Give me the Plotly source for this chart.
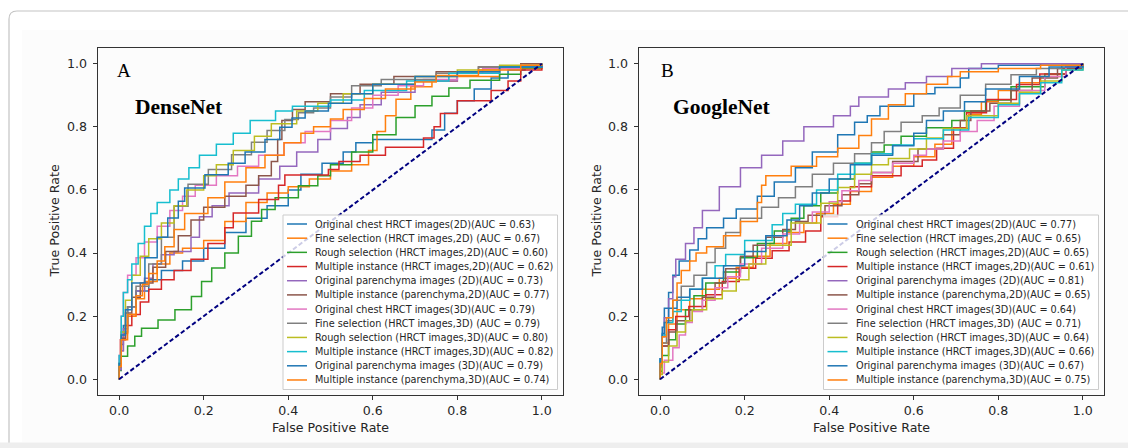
import plotly.graph_objects as go

W, H = 1128, 448

# ---------------- data ----------------
series_names = [
    "Original chest HRCT images(2D)", "Fine selection (HRCT images,2D) ", "Rough selection (HRCT images,2D)",
    "Multiple instance (HRCT images,2D)", "Original parenchyma images (2D)", "Multiple instance (parenchyma,2D)",
    "Original chest HRCT images(3D)", "Fine selection (HRCT images,3D) ", "Rough selection (HRCT images,3D)",
    "Multiple instance (HRCT images,3D)", "Original parenchyma images (3D)", "Multiple instance (parenchyma,3D)",
]
auc_A = [0.63, 0.67, 0.60, 0.62, 0.73, 0.77, 0.79, 0.79, 0.80, 0.82, 0.79, 0.74]
auc_B = [0.77, 0.65, 0.65, 0.61, 0.81, 0.65, 0.64, 0.71, 0.64, 0.66, 0.67, 0.75]
colors = ["#1f77b4", "#ff7f0e", "#2ca02c", "#d62728", "#9467bd", "#8c564b",
          "#e377c2", "#7f7f7f", "#bcbd22", "#17becf", "#1f77b4", "#ff7f0e"]
tick_vals = [0.0, 0.2, 0.4, 0.6, 0.8, 1.0]
tick_labels = ["0.0", "0.2", "0.4", "0.6", "0.8", "1.0"]
chance = [0.0, 1.0]

# Panel A (DenseNet)
A1_fpr = [0, 0.005, 0.01, 0.02, 0.04, 0.07, 0.1, 0.15, 0.2, 0.25, 0.3, 0.35, 0.4, 0.43, 0.48, 0.53, 0.56, 0.6, 0.74, 0.77, 0.8, 0.84, 0.88, 0.92, 0.96, 1]
A1_tpr = [0, 0.08, 0.14, 0.2, 0.26, 0.3, 0.33, 0.36, 0.39, 0.44, 0.49, 0.53, 0.57, 0.63, 0.67, 0.7, 0.74, 0.76, 0.76, 0.82, 0.866, 0.9, 0.94, 0.97, 0.99, 1]
A2_fpr = [0, 0.005, 0.01, 0.02, 0.04, 0.06, 0.09, 0.12, 0.15, 0.2, 0.25, 0.3, 0.35, 0.4, 0.45, 0.5, 0.55, 0.59, 0.61, 0.63, 0.655, 0.69, 0.74, 0.8, 0.9, 1]
A2_tpr = [0, 0.06, 0.12, 0.17, 0.23, 0.28, 0.34, 0.39, 0.41, 0.42, 0.46, 0.54, 0.58, 0.6, 0.62, 0.65, 0.67, 0.69, 0.76, 0.81, 0.86, 0.915, 0.94, 0.95, 0.97, 1]
A3_fpr = [0, 0.005, 0.02, 0.037, 0.053, 0.092, 0.132, 0.171, 0.195, 0.219, 0.25, 0.282, 0.313, 0.337, 0.369, 0.424, 0.47, 0.5, 0.55, 0.6, 0.655, 0.7, 0.74, 0.78, 0.83, 0.9, 0.95, 1]
A3_tpr = [0, 0.056, 0.09, 0.12, 0.152, 0.172, 0.204, 0.236, 0.289, 0.331, 0.374, 0.427, 0.48, 0.522, 0.554, 0.596, 0.63, 0.66, 0.7, 0.74, 0.81, 0.85, 0.884, 0.91, 0.937, 0.958, 0.975, 1]
A4_fpr = [0, 0.003, 0.015, 0.03, 0.05, 0.07, 0.1, 0.13, 0.17, 0.21, 0.25, 0.27, 0.33, 0.377, 0.392, 0.495, 0.52, 0.57, 0.63, 0.72, 0.745, 0.76, 0.8, 0.88, 0.92, 0.95, 1]
A4_tpr = [0, 0.1, 0.15, 0.19, 0.22, 0.27, 0.3, 0.33, 0.36, 0.4, 0.46, 0.5, 0.554, 0.585, 0.645, 0.65, 0.68, 0.7, 0.72, 0.75, 0.78, 0.82, 0.865, 0.9, 0.93, 0.96, 1]
A5_fpr = [0, 0.005, 0.01, 0.02, 0.04, 0.06, 0.08, 0.1, 0.13, 0.17, 0.19, 0.22, 0.26, 0.33, 0.38, 0.42, 0.47, 0.5, 0.54, 0.57, 0.62, 0.7, 0.8, 0.9, 1]
A5_tpr = [0, 0.06, 0.12, 0.2, 0.26, 0.3, 0.34, 0.39, 0.4, 0.41, 0.49, 0.54, 0.56, 0.62, 0.65, 0.7, 0.74, 0.78, 0.81, 0.85, 0.89, 0.93, 0.96, 0.98, 1]
A6_fpr = [0, 0.005, 0.015, 0.03, 0.05, 0.08, 0.11, 0.14, 0.17, 0.2, 0.25, 0.3, 0.33, 0.36, 0.375, 0.385, 0.41, 0.44, 0.5, 0.57, 0.65, 0.75, 0.85, 0.95, 1]
A6_tpr = [0, 0.08, 0.18, 0.24, 0.28, 0.33, 0.38, 0.43, 0.48, 0.53, 0.56, 0.6, 0.63, 0.66, 0.72, 0.8, 0.84, 0.87, 0.89, 0.92, 0.95, 0.97, 0.98, 1.0, 1]
A7_fpr = [0, 0.005, 0.01, 0.02, 0.04, 0.06, 0.09, 0.12, 0.15, 0.18, 0.23, 0.28, 0.33, 0.39, 0.44, 0.5, 0.55, 0.6, 0.66, 0.72, 0.8, 0.86, 0.95, 1]
A7_tpr = [0, 0.15, 0.25, 0.3, 0.36, 0.41, 0.46, 0.51, 0.56, 0.6, 0.63, 0.66, 0.69, 0.73, 0.77, 0.8, 0.84, 0.88, 0.92, 0.94, 0.96, 0.98, 0.99, 1]
A8_fpr = [0, 0.005, 0.02, 0.04, 0.07, 0.1, 0.13, 0.163, 0.211, 0.266, 0.313, 0.35, 0.392, 0.424, 0.46, 0.5, 0.55, 0.62, 0.75, 0.85, 1]
A8_tpr = [0, 0.1, 0.2, 0.26, 0.33, 0.4, 0.5, 0.596, 0.64, 0.69, 0.733, 0.77, 0.807, 0.84, 0.85, 0.87, 0.92, 0.94, 0.96, 0.98, 1]
A9_fpr = [0, 0.005, 0.015, 0.03, 0.05, 0.07, 0.1, 0.13, 0.16, 0.2, 0.23, 0.27, 0.32, 0.36, 0.42, 0.47, 0.53, 0.6, 0.7, 0.8, 0.9, 1]
A9_tpr = [0, 0.1, 0.2, 0.3, 0.36, 0.42, 0.47, 0.52, 0.58, 0.62, 0.67, 0.69, 0.76, 0.78, 0.84, 0.86, 0.89, 0.92, 0.95, 0.97, 0.99, 1]
A10_fpr = [0, 0.005, 0.01, 0.02, 0.03, 0.045, 0.06, 0.075, 0.09, 0.12, 0.14, 0.165, 0.19, 0.23, 0.27, 0.31, 0.37, 0.41, 0.5, 0.58, 0.68, 0.78, 0.9, 1]
A10_tpr = [0, 0.15, 0.25, 0.3, 0.33, 0.4, 0.46, 0.51, 0.54, 0.58, 0.62, 0.65, 0.69, 0.73, 0.76, 0.8, 0.84, 0.86, 0.87, 0.9, 0.93, 0.96, 0.98, 1]
A11_fpr = [0, 0.005, 0.015, 0.03, 0.061, 0.09, 0.115, 0.14, 0.155, 0.203, 0.258, 0.298, 0.345, 0.38, 0.409, 0.44, 0.495, 0.55, 0.6, 0.7, 0.8, 0.9, 1]
A11_tpr = [0, 0.1, 0.18, 0.26, 0.35, 0.42, 0.48, 0.543, 0.585, 0.627, 0.67, 0.7, 0.74, 0.78, 0.817, 0.84, 0.86, 0.89, 0.92, 0.95, 0.97, 0.98, 1]
A12_fpr = [0, 0.005, 0.02, 0.04, 0.055, 0.07, 0.09, 0.108, 0.13, 0.155, 0.21, 0.25, 0.3, 0.345, 0.39, 0.43, 0.46, 0.5, 0.53, 0.58, 0.63, 0.7, 0.75, 0.85, 0.95, 1]
A12_tpr = [0, 0.08, 0.17, 0.24, 0.29, 0.31, 0.36, 0.39, 0.45, 0.5, 0.55, 0.6, 0.65, 0.69, 0.73, 0.77, 0.79, 0.81, 0.84, 0.87, 0.91, 0.93, 0.955, 0.97, 0.99, 1]

# Panel B (GoogleNet)
B1_fpr = [0, 0.005, 0.01, 0.02, 0.03, 0.045, 0.07, 0.09, 0.11, 0.15, 0.18, 0.23, 0.27, 0.32, 0.36, 0.42, 0.46, 0.49, 0.52, 0.6, 0.65, 0.71, 0.73, 0.8, 0.9, 1]
B1_tpr = [0, 0.13, 0.2, 0.25, 0.3, 0.36, 0.39, 0.43, 0.46, 0.5, 0.52, 0.56, 0.6, 0.65, 0.69, 0.75, 0.8, 0.83, 0.84, 0.89, 0.92, 0.93, 0.98, 0.99, 1.0, 1]
B2_fpr = [0, 0.005, 0.02, 0.04, 0.07, 0.1, 0.14, 0.18, 0.22, 0.26, 0.3, 0.34, 0.37, 0.41, 0.45, 0.5, 0.55, 0.6, 0.65, 0.69, 0.73, 0.76, 0.8, 0.85, 0.9, 0.95, 1]
B2_tpr = [0, 0.08, 0.15, 0.2, 0.24, 0.27, 0.3, 0.34, 0.37, 0.41, 0.45, 0.48, 0.51, 0.54, 0.57, 0.62, 0.66, 0.69, 0.72, 0.77, 0.82, 0.86, 0.9, 0.93, 0.95, 0.97, 1]
B3_fpr = [0, 0.005, 0.02, 0.037, 0.06, 0.08, 0.108, 0.15, 0.19, 0.23, 0.27, 0.31, 0.34, 0.38, 0.42, 0.46, 0.5, 0.53, 0.57, 0.63, 0.69, 0.72, 0.77, 0.83, 0.91, 0.96, 1]
B3_tpr = [0, 0.05, 0.1, 0.15, 0.2, 0.24, 0.29, 0.32, 0.36, 0.41, 0.45, 0.49, 0.53, 0.57, 0.61, 0.66, 0.71, 0.73, 0.755, 0.785, 0.81, 0.83, 0.87, 0.9, 0.955, 0.98, 1]
B4_fpr = [0, 0.005, 0.02, 0.037, 0.068, 0.108, 0.147, 0.187, 0.226, 0.265, 0.305, 0.344, 0.38, 0.42, 0.45, 0.5, 0.57, 0.62, 0.654, 0.694, 0.725, 0.772, 0.843, 0.898, 0.96, 1]
B4_tpr = [0, 0.08, 0.13, 0.183, 0.215, 0.246, 0.289, 0.331, 0.373, 0.394, 0.42, 0.45, 0.49, 0.54, 0.59, 0.63, 0.66, 0.69, 0.7, 0.765, 0.829, 0.86, 0.913, 0.955, 0.98, 1]
B5_fpr = [0, 0.005, 0.01, 0.02, 0.03, 0.037, 0.06, 0.08, 0.1, 0.14, 0.19, 0.24, 0.29, 0.34, 0.41, 0.45, 0.47, 0.54, 0.58, 0.63, 0.69, 0.76, 1]
B5_tpr = [0, 0.1, 0.17, 0.22, 0.29, 0.36, 0.4, 0.46, 0.5, 0.57, 0.65, 0.69, 0.73, 0.78, 0.82, 0.85, 0.88, 0.91, 0.93, 0.95, 0.97, 1.0, 1]
B6_fpr = [0, 0.005, 0.02, 0.04, 0.07, 0.1, 0.13, 0.155, 0.19, 0.22, 0.25, 0.29, 0.32, 0.35, 0.39, 0.43, 0.47, 0.5, 0.55, 0.61, 0.67, 0.71, 0.735, 0.78, 0.83, 0.88, 0.94, 1]
B6_tpr = [0, 0.08, 0.13, 0.17, 0.2, 0.24, 0.28, 0.33, 0.37, 0.41, 0.44, 0.46, 0.49, 0.51, 0.53, 0.57, 0.6, 0.64, 0.67, 0.71, 0.75, 0.8, 0.84, 0.86, 0.89, 0.94, 0.97, 1]
B7_fpr = [0, 0.01, 0.03, 0.045, 0.06, 0.076, 0.1, 0.13, 0.16, 0.19, 0.24, 0.29, 0.33, 0.36, 0.4, 0.43, 0.47, 0.5, 0.55, 0.6, 0.63, 0.67, 0.71, 0.75, 0.79, 0.85, 0.91, 0.96, 1]
B7_tpr = [0, 0.04, 0.08, 0.12, 0.16, 0.2, 0.23, 0.27, 0.31, 0.34, 0.39, 0.44, 0.48, 0.51, 0.55, 0.575, 0.62, 0.64, 0.67, 0.7, 0.72, 0.74, 0.77, 0.8, 0.84, 0.89, 0.94, 0.98, 1]
B8_fpr = [0, 0.005, 0.015, 0.03, 0.05, 0.08, 0.11, 0.13, 0.155, 0.19, 0.24, 0.28, 0.32, 0.36, 0.41, 0.46, 0.5, 0.53, 0.57, 0.62, 0.66, 0.71, 0.77, 0.83, 0.89, 0.95, 1]
B8_tpr = [0, 0.08, 0.15, 0.22, 0.28, 0.31, 0.35, 0.39, 0.44, 0.49, 0.53, 0.56, 0.59, 0.63, 0.67, 0.7, 0.73, 0.77, 0.8, 0.83, 0.84, 0.88, 0.92, 0.95, 0.98, 0.99, 1]
B9_fpr = [0, 0.005, 0.02, 0.04, 0.06, 0.076, 0.11, 0.147, 0.18, 0.21, 0.25, 0.31, 0.38, 0.42, 0.46, 0.5, 0.54, 0.59, 0.63, 0.67, 0.725, 0.8, 0.85, 0.9, 0.95, 1]
B9_tpr = [0, 0.03, 0.08, 0.13, 0.17, 0.2, 0.24, 0.27, 0.29, 0.34, 0.39, 0.46, 0.53, 0.585, 0.63, 0.67, 0.69, 0.71, 0.75, 0.78, 0.81, 0.86, 0.89, 0.93, 0.96, 1]
B10_fpr = [0, 0.005, 0.015, 0.03, 0.05, 0.07, 0.1, 0.13, 0.155, 0.2, 0.265, 0.29, 0.32, 0.37, 0.42, 0.46, 0.5, 0.55, 0.6, 0.67, 0.73, 0.8, 0.85, 0.9, 0.95, 1]
B10_tpr = [0, 0.12, 0.16, 0.2, 0.23, 0.27, 0.3, 0.34, 0.38, 0.41, 0.47, 0.51, 0.54, 0.57, 0.63, 0.67, 0.7, 0.73, 0.755, 0.77, 0.81, 0.85, 0.89, 0.92, 0.96, 1]
B11_fpr = [0, 0.005, 0.01, 0.02, 0.04, 0.07, 0.1, 0.15, 0.2, 0.25, 0.3, 0.33, 0.36, 0.4, 0.45, 0.5, 0.55, 0.6, 0.63, 0.67, 0.72, 0.77, 0.85, 0.92, 1]
B11_tpr = [0, 0.13, 0.16, 0.2, 0.25, 0.27, 0.3, 0.34, 0.38, 0.43, 0.48, 0.53, 0.57, 0.61, 0.66, 0.7, 0.72, 0.76, 0.8, 0.84, 0.86, 0.9, 0.94, 0.98, 1]
B12_fpr = [0, 0.005, 0.015, 0.03, 0.04, 0.05, 0.07, 0.085, 0.11, 0.15, 0.19, 0.23, 0.24, 0.25, 0.31, 0.37, 0.42, 0.47, 0.5, 0.54, 0.58, 0.63, 0.68, 0.71, 0.8, 0.9, 1]
B12_tpr = [0, 0.1, 0.17, 0.22, 0.28, 0.33, 0.36, 0.39, 0.41, 0.43, 0.48, 0.52, 0.6, 0.63, 0.66, 0.69, 0.72, 0.745, 0.8, 0.85, 0.89, 0.92, 0.95, 0.97, 0.98, 0.99, 1]

curves_A = [(A1_fpr, A1_tpr), (A2_fpr, A2_tpr), (A3_fpr, A3_tpr), (A4_fpr, A4_tpr), (A5_fpr, A5_tpr), (A6_fpr, A6_tpr),
            (A7_fpr, A7_tpr), (A8_fpr, A8_tpr), (A9_fpr, A9_tpr), (A10_fpr, A10_tpr), (A11_fpr, A11_tpr), (A12_fpr, A12_tpr)]
curves_B = [(B1_fpr, B1_tpr), (B2_fpr, B2_tpr), (B3_fpr, B3_tpr), (B4_fpr, B4_tpr), (B5_fpr, B5_tpr), (B6_fpr, B6_tpr),
            (B7_fpr, B7_tpr), (B8_fpr, B8_tpr), (B9_fpr, B9_tpr), (B10_fpr, B10_tpr), (B11_fpr, B11_tpr), (B12_fpr, B12_tpr)]


def px(x):
    return x / W


def py(y):
    return 1 - y / H


fig = go.Figure()

panels = [
    dict(curves=curves_A, aucs=auc_A, xa="x", ya="y", left=98, right=563, letter="A", net="DenseNet",
         letter_x=115, net_x=133, ytitle_x=54, leg_left=283, leg_right=557.5),
    dict(curves=curves_B, aucs=auc_B, xa="x2", ya="y2", left=639, right=1104, letter="B", net="GoogleNet",
         letter_x=659, net_x=671, ytitle_x=596, leg_left=823.5, leg_right=1098.5),
]

shapes = []
annotations = []

# page chrome (card)
shapes.append(dict(type="rect", xref="paper", yref="paper", x0=px(22), x1=1, y0=py(442), y1=py(30),
                   fillcolor="#fcfcfc", line=dict(width=0), layer="below"))
shapes.append(dict(type="path", xref="paper", yref="paper",
                   path=f"M {px(9)},{py(448)} L {px(9)},{py(19)} Q {px(9)},{py(11)} {px(17)},{py(11)} L {px(1128)},{py(11)}",
                   line=dict(color="#c4c4c4", width=1.2), layer="below"))
shapes.append(dict(type="rect", xref="paper", yref="paper", x0=0, x1=1, y0=0, y1=py(442.5),
                   fillcolor="#eeeeee", line=dict(width=0), layer="below"))

font_sans = "DejaVu Sans"
row0, row_step = 224.0, 14.18

for p in panels:
    for i, (fpr, tpr) in enumerate(p["curves"]):
        label = f"{series_names[i]}(AUC = {p['aucs'][i]:.2f})"
        fig.add_trace(go.Scatter(x=fpr, y=tpr, mode="lines", name=label, xaxis=p["xa"], yaxis=p["ya"],
                                 line=dict(color=colors[i], width=1.5, shape="vhv"), showlegend=False))
    fig.add_trace(go.Scatter(x=chance, y=chance, mode="lines", name="chance", xaxis=p["xa"], yaxis=p["ya"],
                             line=dict(color="navy", width=2, dash="4.5px,2.5px"), showlegend=False, hoverinfo="skip"))

    # legend box
    shapes.append(dict(type="rect", xref="paper", yref="paper", x0=px(p["leg_left"]), x1=px(p["leg_right"]),
                       y0=py(389.5), y1=py(215), fillcolor="rgba(255,255,255,0.8)",
                       line=dict(color="#cccccc", width=1), layer="above"))
    for i in range(len(p["curves"])):
        yc = row0 + row_step * i
        shapes.append(dict(type="line", xref="paper", yref="paper", x0=px(p["leg_left"] + 4), x1=px(p["leg_left"] + 24),
                           y0=py(yc), y1=py(yc), line=dict(color=colors[i], width=1.5), layer="above"))
        annotations.append(dict(text=f"{series_names[i]}(AUC = {p['aucs'][i]:.2f})", xref="paper", yref="paper",
                                x=px(p["leg_left"] + 30), y=py(yc), xanchor="left", yanchor="middle",
                                showarrow=False, font=dict(family=font_sans, size=9.7, color="#262626")))

    cx = (p["left"] + p["right"]) / 2
    annotations.append(dict(text="False Positive Rate", xref="paper", yref="paper", x=px(cx), y=py(427),
                            xanchor="center", yanchor="middle", showarrow=False,
                            font=dict(family=font_sans, size=12.6, color="#262626")))
    annotations.append(dict(text="True Positive Rate", xref="paper", yref="paper", x=px(p["ytitle_x"]), y=py(221.5),
                            xanchor="center", yanchor="middle", textangle=-90, showarrow=False,
                            font=dict(family=font_sans, size=12.6, color="#262626")))
    annotations.append(dict(text=p["letter"], xref="paper", yref="paper", x=px(p["letter_x"]), y=py(70),
                            xanchor="left", yanchor="middle", showarrow=False,
                            font=dict(family="Liberation Serif", size=19, color="black")))
    annotations.append(dict(text=f"<b>{p['net']}</b>", xref="paper", yref="paper", x=px(p["net_x"]), y=py(107),
                            xanchor="left", yanchor="middle", showarrow=False,
                            font=dict(family="Liberation Serif", size=21.5, color="black")))

axis_style = dict(range=[-0.05, 1.05], tickmode="array", tickvals=tick_vals, ticktext=tick_labels,
                  ticks="outside", ticklen=3.5, tickwidth=1, tickcolor="#333333",
                  showline=True, linecolor="#333333", linewidth=1.1, mirror=True,
                  showgrid=False, zeroline=False, fixedrange=True,
                  tickfont=dict(family=font_sans, size=12.6, color="#262626"))

ydom = [1 - 395 / H, 1 - 48 / H]
fig.update_layout(
    width=W, height=H, margin=dict(l=0, r=0, t=0, b=0, pad=0),
    paper_bgcolor="white", plot_bgcolor="white", showlegend=False,
    xaxis=dict(domain=[98 / W, 563 / W], anchor="y", **axis_style),
    yaxis=dict(domain=ydom, anchor="x", ticklabelstandoff=4, **axis_style),
    xaxis2=dict(domain=[639 / W, 1104 / W], anchor="y2", **axis_style),
    yaxis2=dict(domain=ydom, anchor="x2", ticklabelstandoff=4, **axis_style),
    shapes=shapes, annotations=annotations,
)

fig.write_html("out.html", config={"displayModeBar": False})
